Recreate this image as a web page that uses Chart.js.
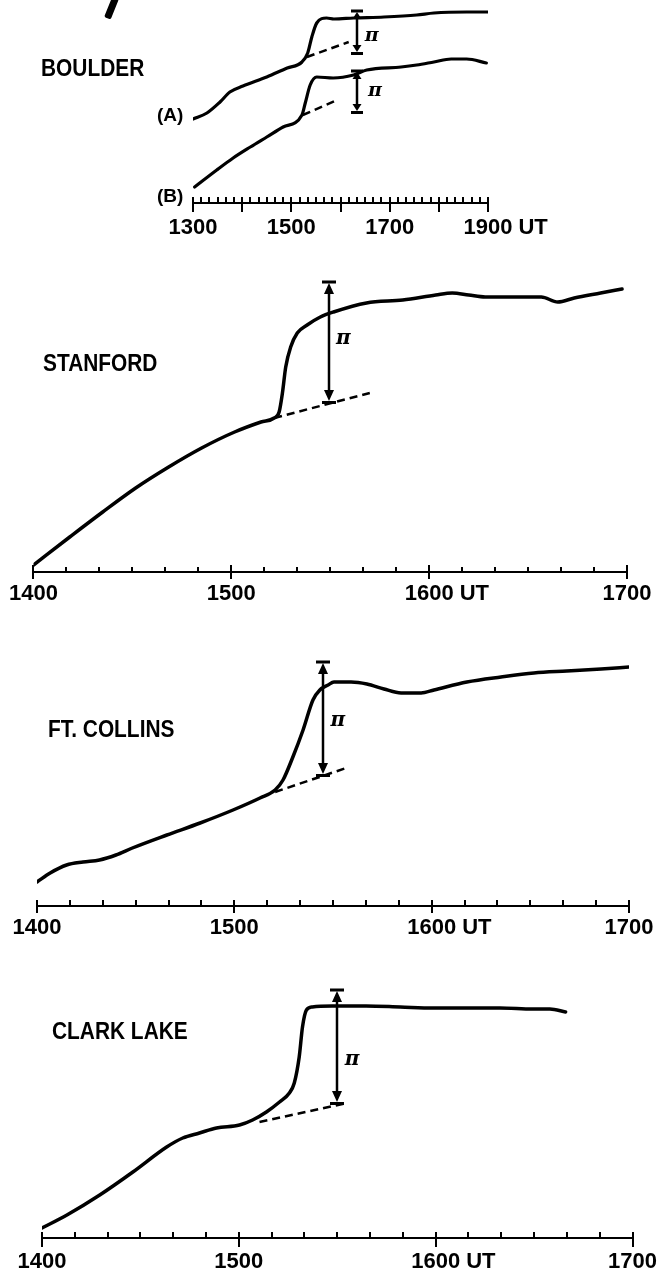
<!DOCTYPE html>
<html><head><meta charset="utf-8">
<script src="https://cdn.jsdelivr.net/npm/chart.js@4.4.1/dist/chart.umd.min.js"></script>
<style>
html,body{margin:0;padding:0;background:#fff;}
body{width:668px;height:1273px;position:relative;overflow:hidden;font-family:"Liberation Sans",Arial,sans-serif;color:#000;}
.panel{position:absolute;left:0;width:668px;}
.panel canvas{display:block;}
.lbl{position:absolute;font-weight:bold;font-size:24px;line-height:24px;transform:scaleX(.87);transform-origin:0 0;white-space:nowrap;}
.ser{position:absolute;font-weight:bold;font-size:19px;line-height:19px;white-space:nowrap;}
.scan{position:absolute;background:#000;}
</style></head><body>
<div class="panel" style="top:0px"><canvas id="c0" width="668" height="245"></canvas></div>
<div class="panel" style="top:250px"><canvas id="c1" width="668" height="360"></canvas></div>
<div class="panel" style="top:615px"><canvas id="c2" width="668" height="330"></canvas></div>
<div class="panel" style="top:950px"><canvas id="c3" width="668" height="323"></canvas></div>
<div class="scan" style="left:108px;top:-3px;width:7px;height:22px;transform:rotate(22deg);border-radius:2px"></div>
<div class="lbl" style="left:41px;top:56px">BOULDER</div>
<div class="ser" style="left:157px;top:105px">(A)</div>
<div class="ser" style="left:157px;top:186px">(B)</div>
<div class="lbl" style="left:43px;top:351px">STANFORD</div>
<div class="lbl" style="left:48px;top:717px">FT. COLLINS</div>
<div class="lbl" style="left:52px;top:1019px">CLARK LAKE</div>
<script>
// ================= DATA =================
// Time: minutes after 00:00 UT.  Flux: relative flux density (arbitrary units).

// ---- Boulder (two records, A and B) ----
const boulderTimeA = [780, 797, 813, 825, 841, 870, 895, 913, 920, 925, 931, 943, 952, 976, 1013, 1053, 1074, 1114, 1139];
const boulderFluxA = [84, 90, 101, 111, 117, 126, 135, 141, 150, 166, 180, 185, 184, 185, 186, 188, 190, 191, 191];
const boulderTimeB = [782, 809, 829, 850, 870, 890, 913, 917, 923, 931, 951, 976, 992, 1034, 1053, 1074, 1095, 1114, 1138];
const boulderFluxB = [16, 33, 45, 56, 66, 76, 88, 100, 118, 126, 125, 128, 133, 136, 138, 141, 144, 144, 140];
const boulderBaseTimeA = [919, 970];
const boulderBaseFluxA = [146, 161];
const boulderBaseTimeB = [914, 956];
const boulderBaseFluxB = [88, 103];
const boulderPiTime = [980, 980];
const boulderPiTop = [192, 132];
const boulderPiBottom = [150, 91];
const boulderPiLabelTime = [998, 1002];
const boulderPiLabelFlux = [166, 111];
const boulderTickLabels = {780: '1300', 900: '1500', 1020: '1700', 1140: '1900'};

// ---- Stanford ----
const stanfordTime = [840, 851, 861, 871, 881, 891, 901, 909, 913, 914.5, 915.5, 916.5, 918, 920, 923, 927, 931, 941, 952, 962, 967, 972, 977, 987, 994, 999, 1004, 1012, 1018.5];
const stanfordFlux = [7, 35, 60, 84, 105, 124, 140, 150, 154, 160, 179, 205, 225, 239, 247, 255, 260, 269, 272, 277, 279, 277, 275, 275, 275, 270, 274, 279, 283];
const stanfordBaseTime = [913, 942];
const stanfordBaseFlux = [154, 179];
const stanfordPiTime = [929.5];
const stanfordPiTop = [290];
const stanfordPiBottom = [170];
const stanfordPiLabelTime = [934];
const stanfordPiLabelFlux = [232];

// ---- Ft. Collins ----
const collinsTime = [840, 844, 849, 854, 859, 864, 869, 879.5, 889.6, 899.6, 907.8, 912.4, 914.8, 917.8, 920.9, 923.9, 926, 928.5, 930.3, 935.5, 940.3, 945.5, 950.7, 956.8, 960.7, 970.7, 981.1, 991.1, 1001.1, 1011.5, 1020];
const collinsFlux = [24, 33, 41, 44, 46, 51, 58, 71, 83, 96, 108, 116, 126, 149, 176, 206, 216, 221, 224, 224, 222, 217, 213, 213, 216, 224, 229, 233, 235, 237, 239];
const collinsBaseTime = [912.4, 934];
const collinsBaseFlux = [114, 138];
const collinsPiTime = [927];
const collinsPiTop = [244];
const collinsPiBottom = [131];
const collinsPiLabelTime = [931.5];
const collinsPiLabelFlux = [184];

// ---- Clark Lake ----
const clarkTime = [840, 847.6, 857.6, 867.7, 878, 882.9, 888, 893.2, 900.2, 904.2, 908.4, 912.4, 915.4, 916.9, 918.4, 919.4, 920.6, 922.4, 928.5, 938.8, 949.2, 959.2, 969.2, 979.6, 989.6, 994.8, 999.6];
const clarkFlux = [10, 23, 43, 66, 91, 100, 105, 110, 113, 118, 126, 136, 145, 155, 181, 211, 228, 231, 232, 232, 231, 230, 230, 230, 229, 229, 226];
const clarkBaseTime = [906.3, 933];
const clarkBaseFlux = [116, 135];
const clarkPiTime = [930];
const clarkPiTop = [248];
const clarkPiBottom = [135];
const clarkPiLabelTime = [934.5];
const clarkPiLabelFlux = [177];

const hourTickLabels = {840: '1400', 900: '1500', 960: '1600', 1020: '1700'};
const piSymbol = 'π';
const unitLabel = 'UT';

// ================= DRAWING =================
const pts = (t, f) => t.map((v, i) => ({x: v, y: f[i]}));
const TICK_FONT = {family: 'Liberation Sans', size: 22, weight: 'bold'};

function solid(t, f, w) {
  return {data: pts(t, f), borderColor: '#000', borderWidth: w, pointRadius: 0,
    cubicInterpolationMode: 'monotone', fill: false, borderCapStyle: 'round', borderJoinStyle: 'round'};
}
function dashed(t, f, w) {
  return {data: pts(t, f), borderColor: '#000', borderWidth: w, pointRadius: 0,
    borderDash: [8, 5], tension: 0, fill: false};
}

function makeChart(id, cfg) {
  const tickVals = [];
  for (let v = cfg.min; v <= cfg.max; v += 10) tickVals.push(v);
  const annot = {
    id: 'annot' + id,
    afterDraw(chart) {
      const ctx = chart.ctx, xs = chart.scales.x, ys = chart.scales.y;
      const axisY = xs.top;
      ctx.save();
      ctx.strokeStyle = '#000';
      ctx.fillStyle = '#000';
      ctx.lineWidth = 2;
      ctx.lineCap = 'butt';
      xs.ticks.forEach(t => {
        const px = Math.round(xs.getPixelForValue(t.value));
        const major = t.value % 60 === 0;
        ctx.beginPath();
        if (major) { ctx.moveTo(px, axisY - cfg.majUp); ctx.lineTo(px, axisY + cfg.majDown); }
        else { ctx.moveTo(px, axisY); ctx.lineTo(px, axisY - cfg.minUp); }
        ctx.stroke();
      });
      // unit label after the chosen tick label
      ctx.font = 'bold 22px "Liberation Sans"';
      ctx.textBaseline = 'middle';
      ctx.textAlign = 'left';
      const lw = ctx.measureText(cfg.labels[cfg.unitAt]).width;
      ctx.fillText(unitLabel, xs.getPixelForValue(cfg.unitAt) + lw / 2 + 6, axisY + cfg.labelPad + 13.2);
      // pi arrows
      cfg.piT.forEach((t, i) => {
        const x = Math.round(xs.getPixelForValue(t));
        const yT = ys.getPixelForValue(cfg.piTop[i]);
        const yB = ys.getPixelForValue(cfg.piBot[i]);
        const h = cfg.head, hw = cfg.headW, bw = cfg.bar;
        ctx.lineWidth = cfg.stem;
        ctx.beginPath(); ctx.moveTo(x, yT + h); ctx.lineTo(x, yB - h); ctx.stroke();
        ctx.fillRect(x - bw / 2, yT - 1.5, bw, 3);
        ctx.fillRect(x - bw / 2, yB - 1, bw, 3);
        ctx.beginPath(); ctx.moveTo(x, yT + 1); ctx.lineTo(x - hw / 2, yT + 1 + h); ctx.lineTo(x + hw / 2, yT + 1 + h); ctx.closePath(); ctx.fill();
        ctx.beginPath(); ctx.moveTo(x, yB - 1); ctx.lineTo(x - hw / 2, yB - 1 - h); ctx.lineTo(x + hw / 2, yB - 1 - h); ctx.closePath(); ctx.fill();
        ctx.font = 'bold italic ' + cfg.piSize + 'px "DejaVu Serif"';
        ctx.textAlign = 'center';
        ctx.textBaseline = 'middle';
        ctx.fillText(piSymbol, xs.getPixelForValue(cfg.piLT[i]), ys.getPixelForValue(cfg.piLF[i]) - 1);
      });
      ctx.restore();
    }
  };
  return new Chart(document.getElementById(id), {
    type: 'line',
    data: {datasets: cfg.datasets},
    options: {
      responsive: false, animation: false, events: [],
      layout: {padding: {left: cfg.left, right: cfg.right, top: cfg.top, bottom: 0}},
      plugins: {legend: {display: false}, tooltip: {enabled: false}, title: {display: false}},
      scales: {
        x: {
          type: 'linear', min: cfg.min, max: cfg.max,
          afterBuildTicks: s => { s.ticks = tickVals.map(v => ({value: v})); },
          afterFit: s => { s.height = cfg.axisH; },
          grid: {display: false, drawTicks: false},
          border: {display: true, color: '#000', width: 2},
          ticks: {autoSkip: false, maxRotation: 0, minRotation: 0, padding: cfg.labelPad, color: '#000', font: TICK_FONT,
            callback: v => (cfg.labels[v] !== undefined ? cfg.labels[v] : '')}
        },
        y: {display: false, min: 0, max: cfg.ymax}
      }
    },
    plugins: [annot]
  });
}

makeChart('c0', {
  min: 780, max: 1140, left: 193, right: 180, top: 3, axisH: 42, ymax: 200, labelPad: 12,
  labels: boulderTickLabels, unitAt: 1140, minUp: 6, majUp: 6, majDown: 9,
  head: 7, headW: 9, bar: 12, stem: 2.5, piSize: 19,
  piT: boulderPiTime, piTop: boulderPiTop, piBot: boulderPiBottom, piLT: boulderPiLabelTime, piLF: boulderPiLabelFlux,
  datasets: [solid(boulderTimeA, boulderFluxA, 3.2), solid(boulderTimeB, boulderFluxB, 3.2),
    dashed(boulderBaseTimeA, boulderBaseFluxA, 2.5), dashed(boulderBaseTimeB, boulderBaseFluxB, 2.5)]
});
makeChart('c1', {
  min: 840, max: 1020, left: 32, right: 41, top: 20, axisH: 38, ymax: 302, labelPad: 9,
  labels: hourTickLabels, unitAt: 960, minUp: 5, majUp: 7, majDown: 7,
  head: 11, headW: 10, bar: 14, stem: 2.5, piSize: 20,
  piT: stanfordPiTime, piTop: stanfordPiTop, piBot: stanfordPiBottom, piLT: stanfordPiLabelTime, piLF: stanfordPiLabelFlux,
  datasets: [solid(stanfordTime, stanfordFlux, 3.5), dashed(stanfordBaseTime, stanfordBaseFlux, 2.5)]
});
makeChart('c2', {
  min: 840, max: 1020, left: 37, right: 39, top: 25, axisH: 39, ymax: 266, labelPad: 9,
  labels: hourTickLabels, unitAt: 960, minUp: 6, majUp: 6, majDown: 7,
  head: 11, headW: 10, bar: 14, stem: 2.5, piSize: 20,
  piT: collinsPiTime, piTop: collinsPiTop, piBot: collinsPiBottom, piLT: collinsPiLabelTime, piLF: collinsPiLabelFlux,
  datasets: [solid(collinsTime, collinsFlux, 3.5), dashed(collinsBaseTime, collinsBaseFlux, 2.5)]
});
makeChart('c3', {
  min: 840, max: 1020, left: 42, right: 34, top: 20, axisH: 35, ymax: 268, labelPad: 11,
  labels: hourTickLabels, unitAt: 960, minUp: 6, majUp: 6, majDown: 9,
  head: 11, headW: 10, bar: 14, stem: 2.5, piSize: 20,
  piT: clarkPiTime, piTop: clarkPiTop, piBot: clarkPiBottom, piLT: clarkPiLabelTime, piLF: clarkPiLabelFlux,
  datasets: [solid(clarkTime, clarkFlux, 3.5), dashed(clarkBaseTime, clarkBaseFlux, 2.5)]
});
</script>
</body></html>
